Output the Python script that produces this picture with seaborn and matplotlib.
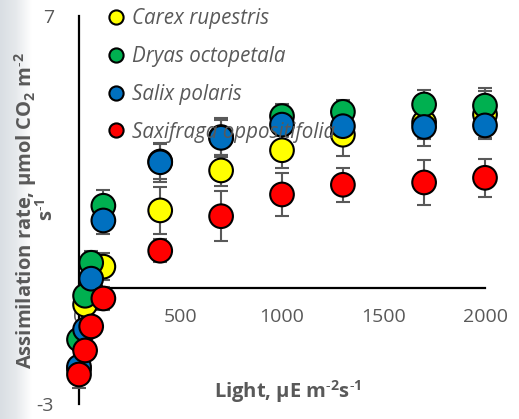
import numpy as np
import pandas as pd
import matplotlib
matplotlib.use("Agg")
import matplotlib.pyplot as plt
import seaborn as sns
from matplotlib.colors import LinearSegmentedColormap

# ---- data ----
light = [0, 30, 60, 120, 400, 700, 1000, 1300, 1700, 2000]
carex = [-2.10, -0.44, -0.08, 0.54, 1.99, 3.02, 3.54, 3.94, 4.26, 4.46]
dryas = [-1.34, -0.21, 0.64, 2.11, 3.25, 3.88, 4.42, 4.53, 4.72, 4.69]
salix = [-2.04, -1.08, 0.23, 1.73, 3.23, 3.86, 4.20, 4.16, 4.14, 4.18]
saxifraga = [-2.24, -1.62, -1.00, -0.28, 0.95, 1.84, 2.40, 2.65, 2.71, 2.83]
carex_err = [0.5, 0.2, 0.2, 0.35, 0.6, 0.4, 0.45, 0.55, 0.6, 0.6]
dryas_err = [0.2, 0.2, 0.3, 0.4, 0.45, 0.45, 0.3, 0.3, 0.37, 0.45]
salix_err = [0.2, 0.2, 0.25, 0.35, 0.5, 0.5, 0.3, 0.3, 0.3, 0.35]
saxifraga_err = [0.15, 0.2, 0.25, 0.3, 0.3, 0.64, 0.55, 0.44, 0.57, 0.49]
species = ["Carex rupestris", "Dryas octopetala", "Salix polaris", "Saxifraga oppositifolia"]
colors = ["#FFFF00", "#00B050", "#0070C0", "#FF0000"]
x_ticks = [0, 500, 1000, 1500, 2000]
y_ticks = [-3, 7]

values = [carex, dryas, salix, saxifraga]
errors = [carex_err, dryas_err, salix_err, saxifraga_err]

rows = []
for sp, vals, errs in zip(species, values, errors):
    for xv, yv, ev in zip(light, vals, errs):
        rows.append({"Light": xv, "Rate": yv, "Err": ev, "Species": sp})
df = pd.DataFrame(rows)

sns.set_style("white")
plt.rcParams["font.family"] = ["Open Sans", "DejaVu Sans"]
plt.rcParams["mathtext.fontset"] = "custom"
plt.rcParams["mathtext.rm"] = "Open Sans:bold"
plt.rcParams["mathtext.it"] = "Open Sans:bold"
plt.rcParams["mathtext.bf"] = "Open Sans:bold"
plt.rcParams["mathtext.default"] = "rm"

W, H = 519, 419
fig = plt.figure(figsize=(W / 100, H / 100), dpi=100)
fig.patch.set_facecolor("white")

# left background strip (blurred photo edge)
bg = fig.add_axes([0, 0, 32 / W, 1], zorder=-5)
grad = np.repeat(np.linspace(0, 1, 64)[None, :], 10, axis=0)
cm = LinearSegmentedColormap.from_list("bgc", ["#d9dee3", "#e6e9ec", "#ffffff"])
bg.imshow(grad, aspect="auto", cmap=cm, extent=[0, 1, 0, 1])
bg.axis("off")

gray = "#595959"
ax = fig.add_axes([79 / W, 15 / H, (485 - 79) / W, (404 - 16) / H])
ax.set_facecolor("none")

for sp in species:
    d = df[df.Species == sp]
    ax.errorbar(d.Light, d.Rate, yerr=d.Err, fmt="none", ecolor=gray,
                elinewidth=1.5, capsize=5, capthick=1.5, zorder=2.6)

sns.scatterplot(data=df, x="Light", y="Rate", hue="Species", hue_order=species,
                palette=colors, s=290, edgecolor="black", linewidth=1.5,
                ax=ax, zorder=3, legend=True)

for art in list(ax.collections) + list(ax.lines):
    art.set_clip_on(False)

ax.set_xlim(0, 2000)
ax.set_ylim(-3, 7)
for s in ["top", "right"]:
    ax.spines[s].set_visible(False)
ax.spines["bottom"].set_position(("data", 0))
ax.spines["left"].set_position(("data", 0))
for s in ["bottom", "left"]:
    ax.spines[s].set_color("black")
    ax.spines[s].set_linewidth(1.6)
    ax.spines[s].set_zorder(2.5)

ax.set_xticks(x_ticks)
ax.set_xticklabels([str(v) for v in x_ticks])
ax.set_yticks(y_ticks)
ax.set_yticklabels([str(v) for v in y_ticks])
ax.tick_params(axis="x", length=0, pad=15, labelsize=14, labelcolor=gray)
ax.tick_params(axis="y", length=0, pad=18, labelsize=14, labelcolor=gray)

hy = "\u2010"
ax.set_xlabel("Light, µE m$^{" + hy + "2}$s$^{" + hy + "1}$", fontsize=14.5,
              fontweight="bold", color=gray)
ax.xaxis.label.set_va("center")
ax.xaxis.set_label_coords((288 - 79) / 406, (404 - 392) / 388)

ax.set_ylabel("Assimilation rate, µmol CO$_2$ m$^{" + hy + "2}$\ns$^{" + hy + "1}$",
              fontsize=14.5, fontweight="bold", color=gray, linespacing=0.85)
ax.yaxis.label.set_va("center")
ax.yaxis.set_label_coords((35 - 79) / 406, (404 - 210) / 388)

handles, labels = ax.get_legend_handles_labels()
leg = ax.legend(handles, labels, loc="upper left",
                bbox_to_anchor=(106 / W, 1 - 8 / H), bbox_transform=fig.transFigure,
                frameon=False, borderpad=0, borderaxespad=0, handlelength=1.0,
                handletextpad=0.25, labelspacing=0.82, markerscale=0.6,
                prop={"family": "Open Sans", "style": "italic", "size": 14.8})
for t in leg.get_texts():
    t.set_color(gray)

fig.savefig("out.png", dpi=100)
